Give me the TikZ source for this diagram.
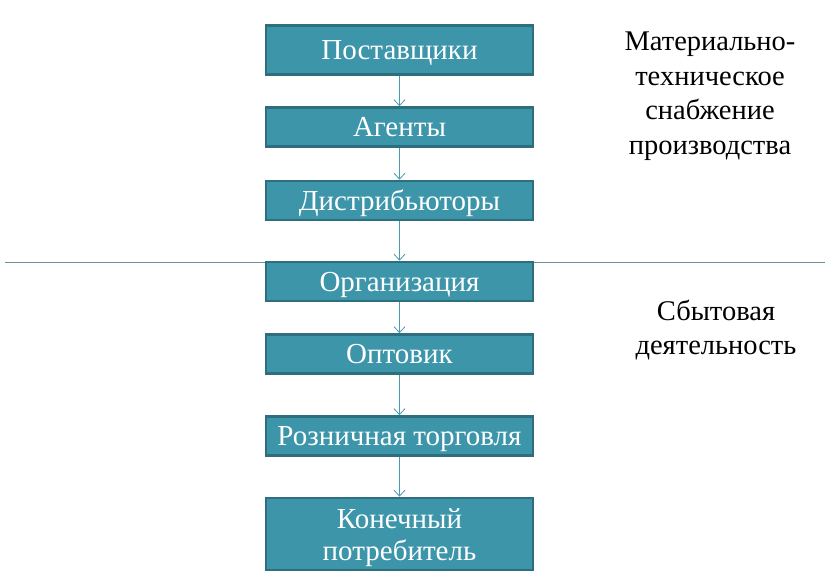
\documentclass[tikz,border=0pt]{standalone}
\usepackage{fontspec}
\setmainfont{Liberation Serif}
\usetikzlibrary{positioning, arrows.meta}
\definecolor{boxfill}{HTML}{3D95AA}
\definecolor{boxline}{HTML}{2E6E7F}
\definecolor{arrowcol}{HTML}{4A9BB1}
\definecolor{sepline}{HTML}{6E9098}
\begin{document}
\begin{tikzpicture}[x=1pt, y=-1pt, >={Straight Barb[length=6pt, width=11pt]},
	box/.style={draw=boxline, line width=2.5pt, fill=boxfill, text=white, minimum width=267pt, minimum height=39pt, inner sep=0pt, align=center, font=\fontsize{29}{32}\selectfont},
	oneline/.style={box, text height=21pt, text depth=2pt},
	side/.style={align=center, font=\fontsize{28.5}{34.5}\selectfont}
	]
		\useasboundingbox (0,0) rectangle (834,580);
		
		%граница между зонами
		\coordinate (sepL) at (5,262);
		\coordinate (sepR) at (825,262);
		\draw[sepline, line width=0.8pt] (sepL) -- (sepR);
		
		\node[oneline, minimum height=49pt]	(supp)	at (399.5,50)	{Поставщики};
		\node[oneline]						(agent)	at (399.5,127)	{Агенты};
		\node[oneline]						(dist)	at (399.5,200.5){Дистрибьюторы};
		\node[oneline]						(org)	at (399.5,281.5){Организация};
		\node[oneline]						(whole)	at (399.5,354)	{Оптовик};
		\node[oneline]						(retail) at (399.5,436)	{Розничная торговля};
		\node[box, minimum height=72pt]		(cons)	at (399.5,534)	{\rule{0pt}{28pt}Конечный\\потребитель};
		
		\node[side]	(supply) at (710,96)	{Материально-\\техническое\\снабжение\\производства};
		\node[side]	(sales)	at (716,330)	{Сбытовая\\деятельность};
		
		%Стрелки:
		\path[->, draw=arrowcol, line width=0.8pt]
		(supp) edge (agent)
		(agent) edge (dist)
		(dist) edge (org)
		(org) edge (whole)
		(whole) edge (retail)
		(retail) edge (cons);
	\end{tikzpicture}
\end{document}
